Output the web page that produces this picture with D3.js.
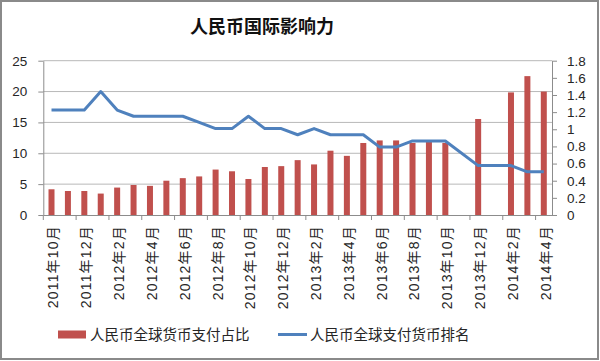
<!DOCTYPE html>
<html>
<head>
<meta charset="utf-8">
<script src="https://cdn.jsdelivr.net/npm/d3@7"></script>
<style>
  body { margin: 0; background: #fff; }
  text { font-family: "Liberation Sans", Arial, "Noto Sans CJK SC", sans-serif; fill: #262626; }
  .cjk { font-family: "Noto Sans CJK SC", sans-serif; }
</style>
</head>
<body>
<div id="chart"></div>
<script>
// 人民币国际影响力: share (bars, right axis) and ranking (line, left axis)
const months = [
  "2011年10月", "2011年11月", "2011年12月",
  "2012年1月", "2012年2月", "2012年3月", "2012年4月", "2012年5月", "2012年6月",
  "2012年7月", "2012年8月", "2012年9月", "2012年10月", "2012年11月", "2012年12月",
  "2013年1月", "2013年2月", "2013年3月", "2013年4月", "2013年5月", "2013年6月",
  "2013年7月", "2013年8月", "2013年9月", "2013年10月", "2013年11月", "2013年12月",
  "2014年1月", "2014年2月", "2014年3月", "2014年4月"
];
// 人民币全球货币支付占比 (%), no data for 2013年11月 and 2014年1月
const share = [0.30, 0.28, 0.28, 0.25, 0.32, 0.35, 0.34, 0.40, 0.43, 0.45, 0.53, 0.51, 0.42,
  0.56, 0.57, 0.64, 0.59, 0.75, 0.69, 0.84, 0.87, 0.87, 0.84, 0.86, 0.84, null, 1.12, null,
  1.43, 1.62, 1.44];
// 人民币全球支付货币排名
const rank = [17, 17, 17, 20, 17, 16, 16, 16, 16, 15, 14, 14, 16, 14, 14, 13, 14, 13, 13, 13,
  11, 11, 12, 12, 12, null, 8, null, 8, 7, 7];
const leftTicks = [0, 5, 10, 15, 20, 25];
const rightTicks = [0, 0.2, 0.4, 0.6, 0.8, 1, 1.2, 1.4, 1.6, 1.8];
const title = "人民币国际影响力";
const seriesNames = ["人民币全球货币支付占比", "人民币全球支付货币排名"];

const W = 600, H = 361;
const margin = {top: 60.7, right: 48, bottom: 146, left: 43.3};
const red = "#C0504D", blue = "#4F81BD", axisCol = "#8c8c8c";

const svg = d3.select("#chart").append("svg").attr("width", W).attr("height", H);

// outer border
svg.append("rect").attr("x", 1).attr("y", 1).attr("width", 597).attr("height", 358)
  .attr("fill", "#fff").attr("stroke", "#8a8a8a").attr("stroke-width", 2);

const x = d3.scaleBand().domain(months).range([margin.left, W - margin.right]).padding(0);
const yL = d3.scaleLinear().domain([0, 25]).range([H - margin.bottom, margin.top]);
const yR = d3.scaleLinear().domain([0, 1.8]).range([H - margin.bottom, margin.top]);
const bw = x.bandwidth();

svg.append("text").attr("class", "cjk").attr("x", 262).attr("y", 33)
  .attr("text-anchor", "middle").style("font-size", "18px").style("font-weight", "bold")
  .style("fill", "#111").text(title);

// gridlines
svg.append("g").selectAll("line").data(leftTicks.slice(1)).join("line")
  .attr("x1", margin.left).attr("x2", W - margin.right)
  .attr("y1", d => yL(d)).attr("y2", d => yL(d))
  .attr("stroke", "#b8b8b8");

// bars
svg.append("g").selectAll("rect").data(months.map((m, i) => ({m, v: share[i]})).filter(d => d.v != null))
  .join("rect")
  .attr("x", d => x(d.m) + bw / 2 - 3).attr("width", 6)
  .attr("y", d => yR(d.v)).attr("height", d => yR(0) - yR(d.v))
  .attr("fill", red);

// line
const pts = months.map((m, i) => ({m, v: rank[i]})).filter(d => d.v != null);
svg.append("path").datum(pts)
  .attr("d", d3.line().x(d => x(d.m) + bw / 2).y(d => yL(d.v)))
  .attr("fill", "none").attr("stroke", blue).attr("stroke-width", 3).attr("stroke-linejoin", "round");

// left axis
const gl = svg.append("g").attr("transform", `translate(${margin.left},0)`)
  .call(d3.axisLeft(yL).tickValues(leftTicks).tickSize(5).tickSizeOuter(0).tickPadding(11));
// right axis
const gr = svg.append("g").attr("transform", `translate(${W - margin.right},0)`)
  .call(d3.axisRight(yR).tickValues(rightTicks).tickSize(5).tickSizeOuter(0).tickPadding(10)
    .tickFormat(d => d3.format("~g")(d)));
// bottom axis
const gb = svg.append("g").attr("transform", `translate(0,${yL(0)})`)
  .call(d3.axisBottom(x).tickValues(months.filter((d, i) => i % 2 === 0)).tickSize(5).tickSizeOuter(0));
gb.selectAll(".tick line").attr("transform", `translate(${-bw / 2},0)`);
gb.selectAll(".tick text")
  .attr("transform", "rotate(-90)").attr("text-anchor", "end")
  .attr("x", -10).attr("y", 2).attr("dy", "0.35em")
  .style("font-size", "14px").style("letter-spacing", "1.2px");

[gl, gr].forEach(g => g.selectAll(".tick text").style("font-size", "13.5px"));
[gl, gr, gb].forEach(g => {
  g.select(".domain").attr("stroke", axisCol);
  g.selectAll(".tick line").attr("stroke", axisCol);
  g.selectAll("text").style("fill", "#262626");
});

// legend
const lg = svg.append("g").attr("transform", "translate(0,334.5)");
lg.append("rect").attr("x", 58).attr("y", -4).attr("width", 28).attr("height", 8).attr("fill", red);
lg.append("text").attr("class", "cjk").attr("x", 90).attr("y", 0).attr("dy", "0.35em")
  .style("font-size", "14.5px").text(seriesNames[0]);
lg.append("line").attr("x1", 278).attr("x2", 307).attr("y1", 0).attr("y2", 0)
  .attr("stroke", blue).attr("stroke-width", 3);
lg.append("text").attr("class", "cjk").attr("x", 310).attr("y", 0).attr("dy", "0.35em")
  .style("font-size", "14.5px").text(seriesNames[1]);
</script>
</body>
</html>
